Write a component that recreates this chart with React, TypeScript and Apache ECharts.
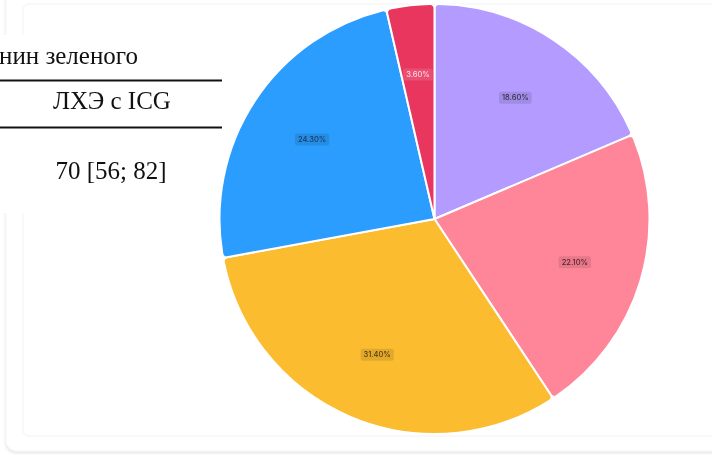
import React, { useEffect, useRef } from "react";
import * as echarts from "echarts";

const categories = ["A", "B", "C", "D", "E"];
const values = [18.6, 22.1, 31.4, 24.3, 3.6];
const colors = ["#b39bff", "#ff8699", "#fbbc30", "#2b9dfe", "#e8365e"];
const labelColors = ["#36334d", "#52252e", "#4f3c0c", "#18395e", "#ffd6df"];
const tableTexts = ["нин зеленого", "ЛХЭ с ICG", "70 [56; 82]"];

export default function App() {
  const ref = useRef<HTMLDivElement>(null);
  useEffect(() => {
    const chart = echarts.init(ref.current!, null, { renderer: "svg" });
    const data = categories.map((c, i) => ({
      name: c,
      value: values[i],
      itemStyle: { color: colors[i] },
    }));
    const labelData = categories.map((c, i) => ({
      name: c,
      value: values[i],
      label: {
        color: labelColors[i],
        backgroundColor: i === 4 ? "rgba(255,255,255,0.12)" : "rgba(0,0,0,0.1)",
      },
    }));
    const serif = "'Liberation Serif', 'DejaVu Serif', serif";
    chart.setOption({
      animation: false,
      graphic: [
        {
          type: "rect",
          z: -10,
          silent: true,
          shape: { x: 6, y: -12, width: 730, height: 463, r: 10 },
          style: { fill: "#fff", stroke: "#f2f3f5", lineWidth: 1, shadowBlur: 3, shadowColor: "rgba(0,0,0,0.12)", shadowOffsetY: 1.5 },
        },
        {
          type: "rect",
          z: -9,
          silent: true,
          shape: { x: 23, y: 4, width: 720, height: 432, r: 6 },
          style: { fill: "#fff", stroke: "#f1f2f4", lineWidth: 1 },
        },
        {
          type: "rect",
          z: -8,
          silent: true,
          shape: { x: 0, y: 35, width: 222, height: 178 },
          style: { fill: "#fff" },
        },
        {
          type: "text",
          z: -7,
          silent: true,
          x: -1,
          y: 55,
          style: { text: tableTexts[0], font: `25px ${serif}`, fill: "#111", verticalAlign: "middle" },
        },
        {
          type: "line",
          z: -7,
          silent: true,
          shape: { x1: 0, y1: 80.5, x2: 222, y2: 80.5 },
          style: { stroke: "#111", lineWidth: 1.8 },
        },
        {
          type: "text",
          z: -7,
          silent: true,
          x: 112,
          y: 100,
          style: { text: tableTexts[1], font: `25px ${serif}`, fill: "#111", align: "center", verticalAlign: "middle" },
        },
        {
          type: "line",
          z: -7,
          silent: true,
          shape: { x1: 0, y1: 127.5, x2: 222, y2: 127.5 },
          style: { stroke: "#111", lineWidth: 1.8 },
        },
        {
          type: "text",
          z: -7,
          silent: true,
          x: 111,
          y: 170,
          style: { text: tableTexts[2], font: `25px ${serif}`, fill: "#111", align: "center", verticalAlign: "middle" },
        },
      ],
      series: [
        {
          type: "pie",
          center: [434.5, 219],
          radius: [0, 215],
          startAngle: 90,
          clockwise: true,
          data,
          label: { show: false },
          labelLine: { show: false },
          itemStyle: { borderColor: "#fff", borderWidth: 2, borderRadius: 4 },
          silent: true,
        },
        {
          type: "pie",
          center: [434.5, 220],
          radius: [72, 215],
          startAngle: 90,
          clockwise: true,
          data: labelData,
          itemStyle: { color: "rgba(0,0,0,0)" },
          labelLine: { show: false },
          label: {
            show: true,
            position: "inside",
            formatter: (p: any) => p.value.toFixed(2) + "%",
            fontSize: 7.5,
            fontWeight: 500,
            fontFamily: "Inter, 'Noto Sans', sans-serif",
            padding: [2, 3],
            borderRadius: 2,
          },
          silent: true,
        },
      ],
    });
    return () => chart.dispose();
  }, []);
  return (
    <div
      ref={ref}
      style={{ position: "fixed", left: 0, top: 0, width: 712, height: 455 }}
    />
  );
}
